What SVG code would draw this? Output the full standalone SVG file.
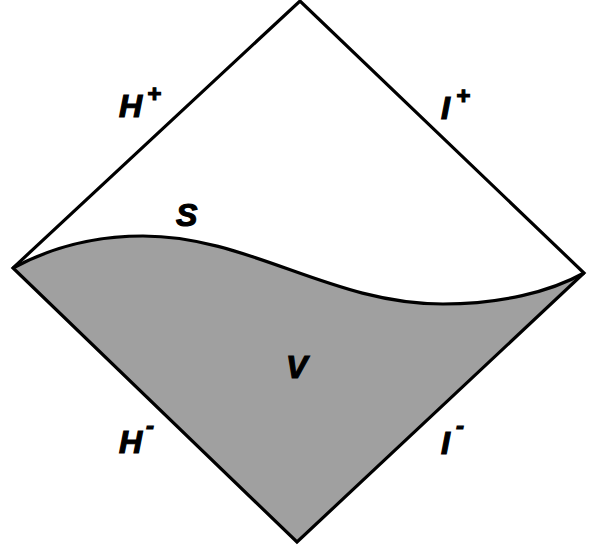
<svg xmlns="http://www.w3.org/2000/svg" width="591" height="550" viewBox="0 0 591 550">
<style>
.lbl{font-family:"Liberation Sans",Arial,sans-serif;font-weight:bold;font-style:italic;font-size:32px;fill:#000;stroke:#000;stroke-width:1.2}
.sup{font-size:24px}
.edge{fill:none;stroke:#000;stroke-width:3.2;stroke-linejoin:miter}
</style>
<rect width="591" height="550" fill="#fff"/>
<g id="region-V">
<path d="M13,268 C50,248 95,236 143,236 C250,236 330,304 443,304 C500,304 550,292 584,273 L297,542 Z" fill="#a0a0a0"/>
</g>
<g id="connectors">
<polygon class="edge" points="300,1 584,273 297,542 13,268"/>
<path id="S-curve" class="edge" d="M13,268 C50,248 95,236 143,236 C250,236 330,304 443,304 C500,304 550,292 584,273"/>
</g>
<g id="label-Hplus"><text class="lbl" x="119" y="117">H<tspan class="sup" dx="5" dy="-15">+</tspan></text></g>
<g id="label-Iplus"><text class="lbl" x="441" y="119">I<tspan class="sup" dx="6" dy="-15">+</tspan></text></g>
<g id="label-S"><text class="lbl" x="176" y="226">S</text></g>
<g id="label-V"><text class="lbl" x="286" y="378">V</text></g>
<g id="label-Hminus"><text class="lbl" x="119" y="453">H<tspan class="sup" dx="4" dy="-19">-</tspan></text></g>
<g id="label-Iminus"><text class="lbl" x="441" y="454">I<tspan class="sup" dx="6" dy="-20">-</tspan></text></g>
</svg>
